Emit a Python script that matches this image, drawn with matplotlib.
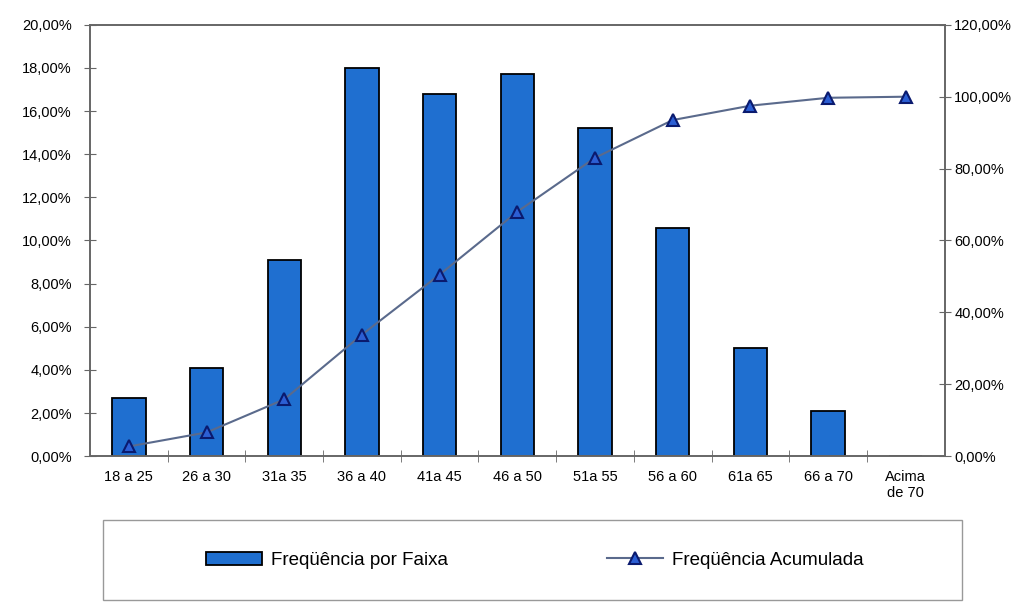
import matplotlib
matplotlib.use("Agg")
import matplotlib.pyplot as plt
from matplotlib.patches import Rectangle
from matplotlib.ticker import FuncFormatter

plt.rcParams['font.family'] = ['Liberation Sans', 'DejaVu Sans']

# dados
faixas = ['18 a 25', '26 a 30', '31a 35', '36 a 40', '41a 45', '46 a 50',
          '51a 55', '56 a 60', '61a 65', '66 a 70', 'Acima\nde 70']
freq_faixa = [2.7, 4.1, 9.1, 18.0, 16.8, 17.7, 15.2, 10.6, 5.0, 2.1, 0.0]
freq_acum = [2.7, 6.6, 15.8, 33.8, 50.5, 68.0, 83.0, 93.5, 97.5, 99.7, 100.0]

bar_color = '#1f6fd0'
line_color = '#5a6a8c'
marker_face = '#2c5fd4'
marker_edge = '#0a1a6e'

def pct(v, pos):
    return f"{v:.2f}%".replace('.', ',')

fig = plt.figure(figsize=(10.26, 6.05), dpi=100)
ax = fig.add_axes([0.0877, 0.246, 0.833, 0.713])
ax2 = ax.twinx()

x = list(range(len(faixas)))
bars = ax.bar(x, freq_faixa, width=0.43, color=bar_color, edgecolor='black',
              linewidth=1.3, label='Freqüência por Faixa', zorder=2)
line, = ax2.plot(x, freq_acum, color=line_color, lw=1.5, marker='^', ms=8,
                 mfc=marker_face, mec=marker_edge, mew=1.5,
                 label='Freqüência Acumulada', zorder=3)

ax.set_xlim(-0.5, len(faixas) - 0.5)
ax.set_ylim(0, 20)
ax.set_yticks(range(0, 21, 2))
ax.yaxis.set_major_formatter(FuncFormatter(pct))
ax2.set_ylim(0, 120)
ax2.set_yticks(range(0, 121, 20))
ax2.yaxis.set_major_formatter(FuncFormatter(pct))

ax.set_xticks(x)
ax.set_xticklabels(faixas, fontsize=10.5)
ax.set_xticks([i + 0.5 for i in x[:-1]], minor=True)
ax.tick_params(axis='x', which='major', length=0, pad=10)
ax.tick_params(axis='x', which='minor', direction='inout', length=8, color='#666666')
ax.tick_params(axis='y', direction='inout', length=8, color='#666666', labelsize=10.5, pad=9)
ax2.tick_params(axis='y', direction='inout', length=8, color='#666666', labelsize=10.5, pad=3)

for a in (ax, ax2):
    for s in a.spines.values():
        s.set_color('#666666')
        s.set_linewidth(1.2)

# caixa da legenda
fig.patches.append(Rectangle((0.1004, 0.0083), 0.837, 0.132, transform=fig.transFigure,
                             fill=False, edgecolor='#999999', linewidth=1.0))
fig.legend(handles=[bars, line], loc='center', ncol=2,
           bbox_to_anchor=(0.521, 0.074), frameon=False, fontsize=13.5,
           handlelength=3.0, handletextpad=0.45, columnspacing=8.5)

fig.savefig('out.png', dpi=100, facecolor='white')
